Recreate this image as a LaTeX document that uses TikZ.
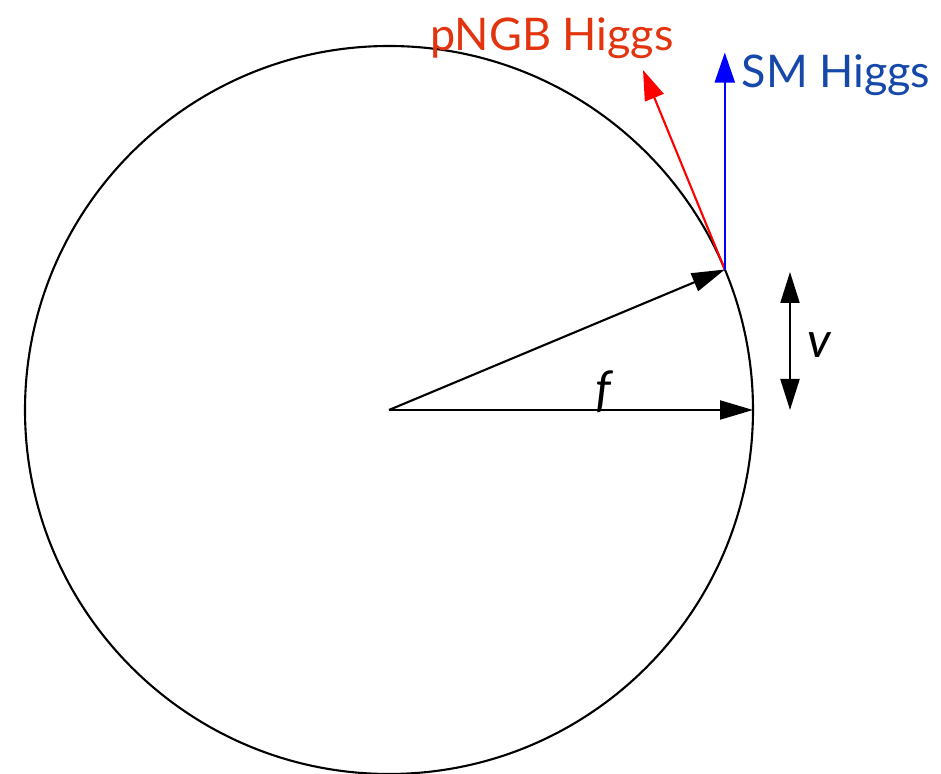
\documentclass[tikz,border=0pt]{standalone}
\usepackage{fontspec}
\setmainfont{Lato}
\usepackage{tikz}
\usetikzlibrary{calc, positioning, arrows.meta}
\usepackage{xcolor}
\definecolor{pngbred}{RGB}{226,52,14}
\definecolor{smblue}{RGB}{22,72,170}
\tikzset{
    radiusarrow/.style={-{Triangle[length=0.66cm, width=0.38cm]}, line width=1.2pt, draw=black},
    pngbarrow/.style={-{Triangle[length=0.6cm, width=0.4cm]}, line width=1.2pt, draw=red},
    smarrow/.style={-{Triangle[length=0.6cm, width=0.4cm]}, line width=1.2pt, draw=blue},
    vevarrow/.style={{Triangle[length=0.62cm, width=0.38cm]}-{Triangle[length=0.62cm, width=0.38cm]}, line width=1.2pt, draw=black},
    bigtext/.style={font=\fontsize{25.6}{30}\selectfont, inner sep=0pt},
    mathlabel/.style={font=\fontsize{28}{32}\selectfont\itshape, inner sep=0pt}
}
\begin{document}
\begin{tikzpicture}[x=0.02cm,y=0.02cm]
    \useasboundingbox (0,0) rectangle (941,774);
    \coordinate (O) at (389,364);
    \coordinate (P) at ($(O)+(22.7:364)$);
    \coordinate (R) at ($(O)+(0:364)$);
    \draw[line width=1.2pt] (O) circle (364);
    \draw[radiusarrow] (O) -- (P);
    \draw[radiusarrow] (O) -- (R);
    \coordinate (pngbtip) at (643,704);
    \coordinate (smtip) at ($(P)+(0,217)$);
    \draw[pngbarrow] (P) -- (pngbtip);
    \draw[smarrow] (P) -- (smtip);
    \coordinate (vtop) at (790,502);
    \coordinate (vbot) at (790,364);
    \draw[vevarrow] (vbot) -- (vtop);
    \node[bigtext, text=pngbred] (pngb) at (552,736) {pNGB Higgs};
    \node[bigtext, text=smblue] (sm) at (836,699) {SM Higgs};
    \node[mathlabel] (flabel) at (603,382) {f};
    \node[mathlabel] (vlabel) at (819,429) {v};
\end{tikzpicture}
\end{document}
